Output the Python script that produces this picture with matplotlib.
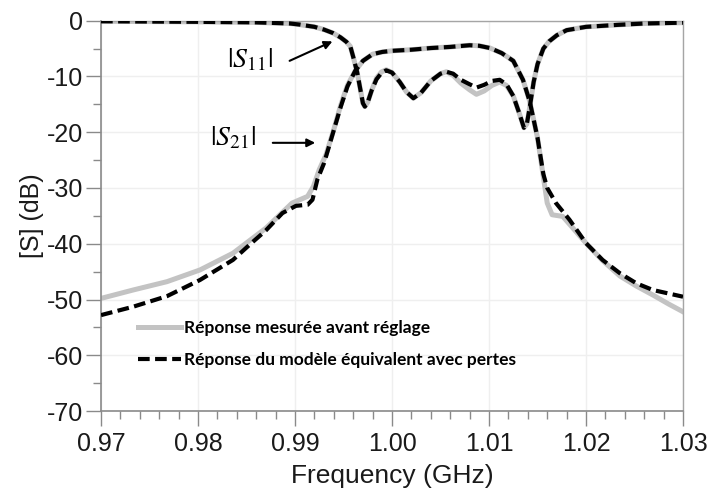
import numpy as np
import matplotlib
matplotlib.use("Agg")
import matplotlib.pyplot as plt
from matplotlib.ticker import MultipleLocator, FormatStrFormatter

plt.rcParams['font.family'] = ['Liberation Sans', 'DejaVu Sans']
plt.rcParams['mathtext.fontset'] = 'stix'
plt.rcParams['axes.unicode_minus'] = False

# |S21| mesure (gris)
f_s21_mes = [0.970, 0.9733, 0.9768, 0.9802, 0.9836, 0.9870, 0.9897, 0.9913, 0.9919, 0.9925,
             0.9932, 0.9940, 0.9947, 0.9954, 0.9962, 0.9970, 0.9980, 0.9990, 1.0000, 1.0020,
             1.0040, 1.0060, 1.0080, 1.0090, 1.0101, 1.0113, 1.0125, 1.0135, 1.0142, 1.0150,
             1.0156, 1.0160, 1.0165, 1.0176, 1.0200, 1.0217, 1.0235, 1.0252, 1.0269, 1.0285, 1.0300]
s21_mes = [-49.8, -48.3, -46.8, -44.7, -41.7, -37.2, -32.7, -31.5, -29.7, -26.7,
           -24.0, -19.5, -15.2, -11.6, -9.0, -7.2, -6.0, -5.6, -5.4, -5.2,
           -4.9, -4.7, -4.4, -4.5, -4.9, -5.8, -7.2, -10.6, -14.5, -21.0,
           -28.0, -32.7, -34.8, -35.1, -39.9, -43.0, -45.8, -47.6, -49.2, -50.8, -52.2]

# |S21| modele (noir)
f_s21_mod = [0.970, 0.9733, 0.9768, 0.9802, 0.9836, 0.9853, 0.9870, 0.9887, 0.9901, 0.9913,
             0.9918, 0.9923, 0.9930, 0.9939, 0.9947, 0.9954, 0.9962, 0.9970, 0.9980, 0.9990,
             1.0000, 1.0020, 1.0040, 1.0060, 1.0080, 1.0090, 1.0101, 1.0113, 1.0125, 1.0135,
             1.0142, 1.0150, 1.0156, 1.0160, 1.0169, 1.0183, 1.0200, 1.0217, 1.0235, 1.0252,
             1.0269, 1.0300]
s21_mod = [-52.8, -51.3, -49.4, -46.5, -42.9, -40.2, -37.6, -34.5, -33.2, -33.0,
           -32.1, -28.5, -25.5, -20.2, -15.5, -11.8, -9.0, -7.2, -6.0, -5.6,
           -5.4, -5.2, -4.9, -4.7, -4.4, -4.5, -4.9, -5.8, -7.2, -10.6,
           -14.5, -21.0, -27.5, -30.0, -32.7, -35.7, -39.9, -42.9, -45.3, -47.1,
           -48.3, -49.5]

# |S11|
f_s11 = [0.970, 0.980, 0.986, 0.9895, 0.9905, 0.9920, 0.9930, 0.9939, 0.9947, 0.9953,
         0.9957, 0.9960, 0.9964, 0.9967, 0.9970, 0.9972, 0.9975, 0.9979, 0.9984, 0.9989,
         0.9994, 1.0000, 1.0008, 1.0015, 1.0022, 1.0030, 1.0040, 1.0050, 1.0056, 1.0063,
         1.0071, 1.0080, 1.0087, 1.0095, 1.0103, 1.0111, 1.0118, 1.0125, 1.0131, 1.0136,
         1.0139, 1.0142, 1.0146, 1.0150, 1.0156, 1.0162, 1.0170, 1.0180, 1.0200, 1.0232,
         1.0260, 1.0300]
s11_mod = [-0.1, -0.2, -0.3, -0.5, -0.7, -1.1, -1.6, -2.2, -3.0, -3.8,
           -4.6, -6.5, -9.2, -12.0, -14.8, -15.4, -14.6, -12.5, -10.5, -9.4,
           -8.9, -9.3, -11.0, -12.8, -13.9, -12.9, -10.8, -9.5, -9.15, -9.5,
           -10.6, -11.4, -12.0, -11.5, -10.8, -10.6, -11.4, -13.5, -16.5, -19.2,
           -18.5, -15.5, -11.0, -7.8, -5.0, -3.7, -2.6, -1.7, -1.1, -0.75,
           -0.5, -0.35]
s11_mes = [-0.1, -0.2, -0.3, -0.5, -0.7, -1.1, -1.6, -2.2, -3.0, -3.8,
           -4.6, -6.5, -9.2, -12.0, -14.8, -15.4, -14.6, -12.5, -10.3, -9.2,
           -8.8, -9.3, -11.0, -12.8, -13.9, -12.9, -10.8, -9.5, -9.15, -9.8,
           -11.2, -12.4, -13.2, -12.6, -11.6, -11.0, -11.6, -13.5, -16.5, -19.2,
           -18.5, -15.5, -11.0, -7.8, -5.0, -3.7, -2.6, -1.7, -1.1, -0.75,
           -0.5, -0.35]

lab_mes = "Réponse mesurée avant réglage"
lab_mod = "Réponse du modèle équivalent avec pertes"

fig = plt.figure(figsize=(7.1, 4.92), dpi=100)
ax = fig.add_axes([0.1423, 0.1646, 0.8197, 0.7933])

gris = '#c3c3c3'
dash = (2.8, 1.3)
l1, = ax.plot(f_s21_mes, s21_mes, color=gris, lw=3.6, zorder=2, label=lab_mes)
ax.plot(f_s11, s11_mes, color=gris, lw=3.6, zorder=2)
l2, = ax.plot(f_s21_mod, s21_mod, color='black', lw=3.0, dashes=dash, zorder=3, label=lab_mod)
ax.plot(f_s11, s11_mod, color='black', lw=3.0, dashes=dash, zorder=3)

ax.set_xlim(0.97, 1.03)
ax.set_ylim(-70, 0)
ax.xaxis.set_major_locator(MultipleLocator(0.01))
ax.xaxis.set_minor_locator(MultipleLocator(0.002))
ax.xaxis.set_major_formatter(FormatStrFormatter('%.2f'))
ax.yaxis.set_major_locator(MultipleLocator(10))
ax.yaxis.set_minor_locator(MultipleLocator(5))

ax.tick_params(which='major', direction='out', length=11, width=1, color='#8a8a8a',
               labelsize=18, labelcolor='#1a1a1a')
ax.tick_params(which='minor', direction='out', length=5.5, width=1, color='#8a8a8a')
ax.tick_params(axis='x', which='major', pad=4)
ax.tick_params(axis='y', which='major', pad=2)

for s in ['left', 'bottom']:
    ax.spines[s].set_color('#8a8a8a')
    ax.spines[s].set_linewidth(1.2)
for s in ['top', 'right']:
    ax.spines[s].set_color('#a5a5a5')
    ax.spines[s].set_linewidth(1.0)

ax.grid(True, which='major', color='#efefef', lw=1, zorder=0)
ax.set_axisbelow(True)

ax.set_xlabel("Frequency (GHz)", fontsize=19, color='#1a1a1a', labelpad=6)
ax.set_ylabel("[S] (dB)", fontsize=18, color='#1a1a1a', labelpad=2)

# annotations
ax.text(0.98536, -7.0, r'$|S_{11}|$', fontsize=20, ha='center', va='center')
ax.annotate('', xy=(0.99412, -3.5), xytext=(0.98918, -7.4),
            arrowprops=dict(arrowstyle='-|>', color='black', lw=1.5, mutation_scale=12))
ax.text(0.98361, -21.0, r'$|S_{21}|$', fontsize=20, ha='center', va='center')
ax.annotate('', xy=(0.99237, -21.9), xytext=(0.98742, -21.9),
            arrowprops=dict(arrowstyle='-|>', color='black', lw=1.5, mutation_scale=12))

ax.legend(handles=[l1, l2], loc='upper left', bbox_to_anchor=(0.063, 0.232),
          frameon=False, borderpad=0, borderaxespad=0, handlelength=2.5,
          handletextpad=0.15, labelspacing=0.9,
          prop={'family': 'Lato', 'weight': 'bold', 'size': 12.5})

fig.savefig('out.png', dpi=100)
